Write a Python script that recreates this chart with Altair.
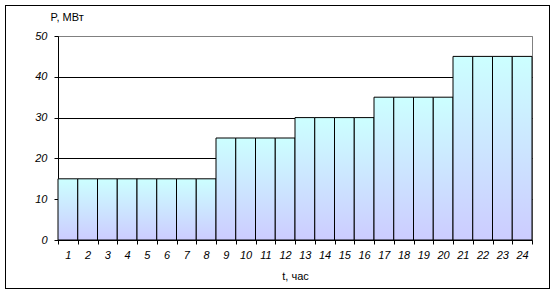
import altair as alt
import pandas as pd

hours = [str(h) for h in range(1, 25)]
power = [15, 15, 15, 15, 15, 15, 15, 15,
         25, 25, 25, 25,
         30, 30, 30, 30,
         35, 35, 35, 35,
         45, 45, 45, 45]

df = pd.DataFrame({"t": hours, "P": power})

FONT = "Liberation Sans"

grad = alt.Gradient(
    gradient="linear",
    stops=[alt.GradientStop(color="#CCFFFF", offset=0),
           alt.GradientStop(color="#CCCCFF", offset=1)],
    x1=0, x2=0, y1=0, y2=1,
)

bars = alt.Chart(df).mark_bar(
    fill=grad, stroke="black", strokeWidth=1, opacity=1
).encode(
    x=alt.X("t:O", sort=hours,
            scale=alt.Scale(paddingInner=0, paddingOuter=0),
            axis=alt.Axis(title="t, час", labelAngle=0, tickBand="extent",
                          labelFontStyle="italic", labelFont=FONT, labelFontSize=11,
                          labelColor="black", labelPadding=5, tickSize=4,
                          tickColor="black", domainColor="black",
                          titleFont=FONT, titleFontSize=11, titleFontWeight="normal",
                          titleColor="black", titlePadding=10)),
    y=alt.Y("P:Q", scale=alt.Scale(domain=[0, 50], nice=False),
            axis=alt.Axis(title="P, МВт", values=[0, 10, 20, 30, 40, 50],
                          grid=True,
                          gridColor=alt.condition("datum.value == 50",
                                                  alt.value("#808080"),
                                                  alt.value("black")),
                          gridOpacity=1,
                          labelFontStyle="italic", labelFont=FONT, labelFontSize=11,
                          labelColor="black", labelPadding=7, tickSize=4,
                          tickColor="black", domainColor="black",
                          titleFont=FONT, titleFontSize=11, titleFontWeight="normal",
                          titleColor="black", titleAngle=0, titleAlign="left",
                          titleBaseline="middle", titleX=-8, titleY=-19)),
)

frame = alt.Chart(df).mark_rect(
    fill=None, stroke="black", strokeWidth=1, clip=False
).encode(
    x=alt.value(-52.5), x2=alt.value(491.5),
    y=alt.value(-30.5), y2=alt.value(252.5),
)

chart = alt.layer(bars, frame).properties(
    width=474, height=204,
    autosize=alt.AutoSizeParams(type="none"),
    padding={"left": 58, "top": 36, "right": 25, "bottom": 53},
    background="white",
).configure_view(stroke="#808080", strokeWidth=1)

chart.save("out.html", embed_options={"renderer": "svg", "actions": False})
